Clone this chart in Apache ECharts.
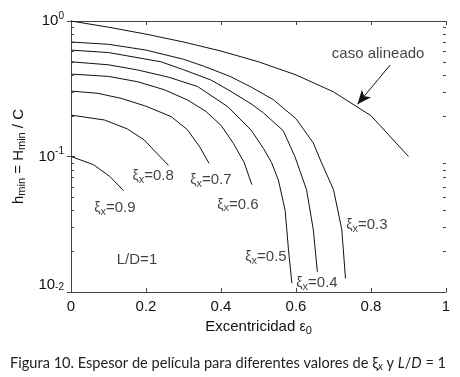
<!DOCTYPE html>
<html>
<head>
<meta charset="utf-8">
<script src="https://cdn.jsdelivr.net/npm/echarts@6/dist/echarts.min.js"></script>
<style>
  html, body { margin: 0; padding: 0; background: #fff; }
  #chart { width: 460px; height: 377px; }
</style>
</head>
<body>
<div id="chart"></div>
<script>
// curvas: [excentricidad eps0, hmin]
var alineado = [[0, 1], [0.1, 0.9], [0.2, 0.8], [0.3, 0.7], [0.4, 0.6], [0.5, 0.5], [0.6, 0.4], [0.7, 0.3], [0.8, 0.2], [0.9, 0.1]];
var xi03 = [[0, 0.70], [0.1, 0.673], [0.2, 0.61], [0.3, 0.522], [0.356, 0.462], [0.424, 0.39], [0.48, 0.326], [0.54, 0.262], [0.6, 0.19], [0.646, 0.126], [0.668, 0.09], [0.7, 0.057], [0.722, 0.029], [0.732, 0.0126]];
var xi04 = [[0, 0.61], [0.1, 0.585], [0.24, 0.50], [0.3, 0.437], [0.373, 0.367], [0.424, 0.305], [0.48, 0.245], [0.513, 0.21], [0.566, 0.155], [0.597, 0.10], [0.628, 0.057], [0.646, 0.029], [0.657, 0.0141]];
var xi05 = [[0, 0.50], [0.1, 0.475], [0.178, 0.435], [0.26, 0.385], [0.338, 0.328], [0.418, 0.233], [0.48, 0.157], [0.513, 0.115], [0.535, 0.09], [0.553, 0.067], [0.571, 0.040], [0.58, 0.0204], [0.589, 0.0116]];
var xi06 = [[0, 0.406], [0.1, 0.39], [0.178, 0.356], [0.25, 0.31], [0.311, 0.261], [0.36, 0.215], [0.4, 0.17], [0.433, 0.125], [0.462, 0.09], [0.482, 0.062]];
var xi07 = [[0, 0.304], [0.07, 0.293], [0.133, 0.269], [0.2, 0.235], [0.267, 0.197], [0.31, 0.158], [0.344, 0.117], [0.368, 0.089]];
var xi08 = [[0, 0.202], [0.089, 0.186], [0.15, 0.16], [0.196, 0.132], [0.22, 0.112], [0.26, 0.086]];
var xi09 = [[0, 0.1], [0.06, 0.087], [0.104, 0.071], [0.14, 0.056]];

// etiquetas de las curvas (centro del texto en coordenadas de datos)
var textoEtiquetas = ['0.9', '0.8', '0.7', '0.6', '0.5', '0.4', '0.3'];
var posEtiquetas = [[0.117, 0.0417], [0.219, 0.0718], [0.373, 0.067], [0.445, 0.0439], [0.52, 0.0181], [0.656, 0.0116], [0.789, 0.0312]];
var posLD = [0.176, 0.0172];
var posCaso = [0.819, 0.571];
var flecha = [[0.851, 0.473], [0.764, 0.243]];

// marcas menores del eje log
var yMenores = [0.02, 0.03, 0.04, 0.05, 0.06, 0.07, 0.08, 0.09, 0.2, 0.3, 0.4, 0.5, 0.6, 0.7, 0.8, 0.9];

var fuente = "'Liberation Sans Narrow', 'Liberation Sans', Arial, sans-serif";
var ejeColor = '#444';

var chart = echarts.init(document.getElementById('chart'), null, { renderer: 'canvas' });

function curva(datos) {
  return {
    type: 'line',
    data: datos,
    showSymbol: false,
    symbol: 'none',
    smooth: false,
    animation: false,
    lineStyle: { color: '#111', width: 1 }
  };
}

var subRich = {
  t: { fontSize: 15, fontFamily: fuente, color: '#111', lineHeight: 18 },
  g: { fontSize: 14, fontFamily: fuente, color: '#111', lineHeight: 18 },
  s: { fontSize: 11, fontFamily: fuente, color: '#111', verticalAlign: 'bottom' }
};

var option = {
  backgroundColor: '#fff',
  animation: false,
  grid: { left: 71, right: 14, top: 21, bottom: 85 },
  xAxis: [{
    type: 'value', min: 0, max: 1, interval: 0.2,
    name: '{t|Excentricidad }{g|ε}{s|0}',
    nameLocation: 'middle', nameGap: 26,
    nameTextStyle: { rich: subRich },
    axisLine: { lineStyle: { color: ejeColor, width: 1 } },
    axisTick: { inside: true, length: 4, lineStyle: { color: ejeColor } },
    axisLabel: { fontSize: 15, fontFamily: fuente, color: '#111', margin: 7 },
    splitLine: { show: false }
  }, {
    type: 'value', min: 0, max: 1, interval: 0.2, position: 'top',
    axisLine: { lineStyle: { color: ejeColor, width: 1 } },
    axisTick: { inside: true, length: 4, lineStyle: { color: ejeColor } },
    axisLabel: { show: false },
    splitLine: { show: false }
  }],
  yAxis: [{
    type: 'log', logBase: 10, min: 0.01, max: 1,
    name: '{t|h}{s|min}{t| = H}{s|min}{t| / C}',
    nameLocation: 'middle', nameRotate: 90, nameGap: 40,
    nameTextStyle: { rich: subRich },
    axisLine: { lineStyle: { color: ejeColor, width: 1 } },
    axisTick: { inside: true, length: 4, lineStyle: { color: ejeColor } },
    axisLabel: {
      margin: 7,
      formatter: function (v) {
        var e = Math.round(Math.log10(v));
        if (e === -2) return '{b|10}{bs|' + e + '}';
        return '{a|10}{as|' + e + '}';
      },
      rich: {
        a: { fontSize: 15, fontFamily: fuente, color: '#111', lineHeight: 20 },
        as: { fontSize: 10, fontFamily: fuente, color: '#111', verticalAlign: 'top' },
        b: { fontSize: 15, fontFamily: fuente, color: '#111', lineHeight: 20, padding: [0, 0, 15, 0] },
        bs: { fontSize: 10, fontFamily: fuente, color: '#111', verticalAlign: 'top' }
      }
    },
    splitLine: { show: false }
  }, {
    type: 'log', logBase: 10, min: 0.01, max: 1, position: 'right',
    axisLine: { lineStyle: { color: ejeColor, width: 1 } },
    axisTick: { inside: true, length: 4, lineStyle: { color: ejeColor } },
    axisLabel: { show: false },
    splitLine: { show: false }
  }],
  series: [
    Object.assign(curva(alineado), {
      markLine: {
        silent: true, animation: false,
        symbol: ['none', 'arrow'], symbolSize: [9, 14],
        lineStyle: { color: '#111', width: 1, type: 'solid' },
        label: { show: false },
        data: [[{ coord: flecha[0] }, { coord: flecha[1] }]]
      }
    }),
    curva(xi03), curva(xi04), curva(xi05), curva(xi06), curva(xi07), curva(xi08), curva(xi09),
    {
      // marcas menores izquierda y derecha
      type: 'custom',
      silent: true,
      data: yMenores.map(function (v) { return [0, v]; }),
      renderItem: function (params, api) {
        var izq = api.coord([0, api.value(1)]);
        var der = api.coord([1, api.value(1)]);
        var y = Math.round(izq[1]) + 0.5;
        return {
          type: 'group',
          children: [
            { type: 'line', shape: { x1: izq[0], y1: y, x2: izq[0] + 3, y2: y }, style: { stroke: ejeColor, lineWidth: 1 } },
            { type: 'line', shape: { x1: der[0] - 3, y1: y, x2: der[0], y2: y }, style: { stroke: ejeColor, lineWidth: 1 } }
          ]
        };
      }
    },
    {
      type: 'scatter',
      symbolSize: 1,
      itemStyle: { color: 'transparent' },
      silent: true,
      data: posEtiquetas.map(function (p, i) {
        return { value: p, label: { formatter: '{g|ξ}{s|x}{t|=' + textoEtiquetas[i] + '}' } };
      }).concat([
        { value: posLD, label: { formatter: '{t|L/D=1}' } },
        { value: posCaso, label: { formatter: '{t|caso alineado}' } }
      ]),
      label: { show: true, position: 'inside', rich: subRich }
    }
  ],
  graphic: [{
    type: 'text',
    left: 10, top: 356,
    style: {
      text: '{c|Figura 10. Espesor de película para diferentes valores de ξ}{ci|x}{c| y }{i|L}{c|/}{i|D}{c| = 1}',
      rich: {
        c: { fontSize: 14.6, fontFamily: 'Lato, sans-serif', fill: '#222', lineHeight: 18 },
        ci: { fontSize: 10.5, fontFamily: 'Lato, sans-serif', fontStyle: 'italic', fill: '#222', verticalAlign: 'bottom' },
        i: { fontSize: 14.6, fontFamily: 'Lato, sans-serif', fontStyle: 'italic', fill: '#222', lineHeight: 18 }
      }
    }
  }]
};

chart.setOption(option);
</script>
</body>
</html>
